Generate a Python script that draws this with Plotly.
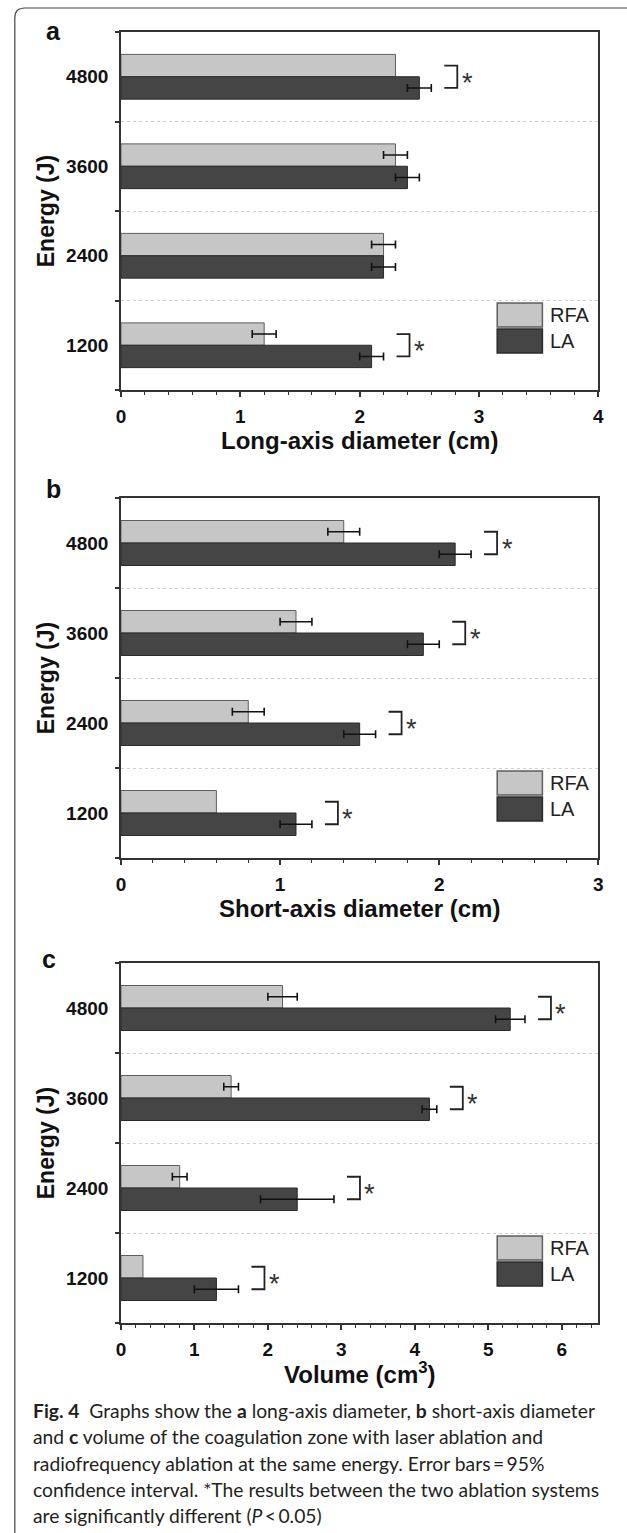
import plotly.graph_objects as go

W, H = 627, 1533

# ---------------- data ----------------
energy_labels = ["1200", "2400", "3600", "4800"]

a_rfa = [1.2, 2.2, 2.3, 2.3]
a_rfa_err = [0.1, 0.1, 0.1, None]
a_la = [2.1, 2.2, 2.4, 2.5]
a_la_err = [0.1, 0.1, 0.1, 0.1]
a_sig = [True, False, False, True]

b_rfa = [0.6, 0.8, 1.1, 1.4]
b_rfa_err = [None, 0.1, 0.1, 0.1]
b_la = [1.1, 1.5, 1.9, 2.1]
b_la_err = [0.1, 0.1, 0.1, 0.1]
b_sig = [True, True, True, True]

c_rfa = [0.3, 0.8, 1.5, 2.2]
c_rfa_err = [None, 0.1, 0.1, 0.2]
c_la = [1.3, 2.4, 4.2, 5.3]
c_la_err = [0.3, 0.5, 0.1, 0.2]
c_sig = [True, True, True, True]

panel_letters = ["a", "b", "c"]
x_titles = ["Long-axis diameter (cm)", "Short-axis diameter (cm)", "Volume (cm<sup>3</sup>)"]
x_ranges = [[0, 4], [0, 3], [0, 6.5]]
series_names = ["RFA", "LA"]

caption_lines = [
    "<b>Fig. 4</b>  Graphs show the <b>a</b> long-axis diameter, <b>b</b> short-axis diameter",
    "and <b>c</b> volume of the coagulation zone with laser ablation and",
    "radiofrequency ablation at the same energy. Error bars\u2009=\u200995%",
    "confidence interval. *The results between the two ablation systems",
    "are significantly different (<i>P</i>\u2009<\u20090.05)",
]

# ---------------- styling ----------------
RFA_FILL, RFA_LINE = "#c6c6c6", "#5e5e5e"
LA_FILL, LA_LINE = "#454545", "#2a2a2a"
AX = "#333333"
BOLD = dict(family="Liberation Sans, Arial, sans-serif", color="#111111", weight="bold")

panel_tops = [32, 498, 963]
panel_bottoms = [390, 858, 1323]
X_LEFT, X_RIGHT = 118, 604


def pxx(p):
    return p / W


def pxy(p):
    return 1 - p / H


panels = [
    (a_rfa, a_rfa_err, a_la, a_la_err, a_sig),
    (b_rfa, b_rfa_err, b_la, b_la_err, b_sig),
    (c_rfa, c_rfa_err, c_la, c_la_err, c_sig),
]

fig = go.Figure()
shapes = []
annotations = []
idx = list(range(len(energy_labels)))

for k, (rfa, rfa_err, la, la_err, sig) in enumerate(panels):
    n = k + 1
    xa = "x" if n == 1 else f"x{n}"
    ya = "y" if n == 1 else f"y{n}"
    top, bot = panel_tops[k], panel_bottoms[k]

    fig.add_trace(go.Bar(orientation="h", x=rfa, y=idx, width=0.25, offset=0,
                         marker=dict(color=RFA_FILL, line=dict(color=RFA_LINE, width=1)),
                         xaxis=xa, yaxis=ya, showlegend=False, name=series_names[0]))
    fig.add_trace(go.Bar(orientation="h", x=la, y=idx, width=0.25, offset=-0.25,
                         marker=dict(color=LA_FILL, line=dict(color=LA_LINE, width=1)),
                         xaxis=xa, yaxis=ya, showlegend=False, name=series_names[1]))

    # error bars (only where an error value exists)
    for vals, errs, dy in ((rfa, rfa_err, 0.125), (la, la_err, -0.125)):
        ex = [v for v, e in zip(vals, errs) if e is not None]
        ey = [i + dy for i, e in zip(idx, errs) if e is not None]
        ee = [e for e in errs if e is not None]
        fig.add_trace(go.Scatter(x=ex, y=ey, mode="markers",
                                 marker=dict(size=1, opacity=0),
                                 error_x=dict(type="data", array=ee, symmetric=True,
                                              color="#111111", thickness=1.6, width=4),
                                 xaxis=xa, yaxis=ya, showlegend=False, hoverinfo="skip"))

    # significance brackets
    gap, bw = 13, 13
    for i in idx:
        if not sig[i]:
            continue
        anchor = max(rfa[i] + (rfa_err[i] or 0), la[i] + (la_err[i] or 0))
        shapes.append(dict(type="path", xref=xa, yref=ya, xsizemode="pixel", xanchor=anchor,
                           path=f"M{gap},{i + 0.125} L{gap + bw},{i + 0.125} "
                                f"L{gap + bw},{i - 0.125} L{gap},{i - 0.125}",
                           line=dict(color="#222222", width=1.8)))
        annotations.append(dict(x=anchor, y=i, xref=xa, yref=ya, text="*", showarrow=False,
                                xshift=gap + bw + 10, yshift=-6, xanchor="center", yanchor="middle",
                                font=dict(family="Liberation Sans, Arial", size=27, color="#333333")))

    fig.layout[f"xaxis{'' if n == 1 else n}"] = dict(
        domain=[pxx(X_LEFT), pxx(X_RIGHT)], anchor=ya, range=x_ranges[k],
        tickmode="linear", tick0=0, dtick=1, ticks="outside", ticklen=5, tickwidth=1.5,
        tickcolor=AX, showline=True, linecolor=AX, linewidth=1.5, mirror=True,
        showgrid=False, zeroline=False, tickfont=dict(size=19, **BOLD), ticklabelstandoff=3,
        minor=dict(dtick=0.2, tick0=0, ticks="outside", ticklen=3, tickwidth=1.2,
                   tickcolor=AX, showgrid=False),
    )
    fig.layout[f"yaxis{'' if n == 1 else n}"] = dict(
        domain=[pxy(bot), pxy(top)], anchor=xa, range=[-0.5, 3.5],
        tickmode="array", tickvals=idx, ticktext=energy_labels, ticks="",
        showline=True, linecolor=AX, linewidth=1.5, mirror=True,
        showgrid=False, zeroline=False, tickfont=dict(size=19, **BOLD), ticklabelstandoff=7,
        minor=dict(tickmode="array", tickvals=[-0.5, 0.5, 1.5, 2.5, 3.5], ticks="outside",
                   ticklen=4, tickwidth=1.5, tickcolor=AX, showgrid=True,
                   gridcolor="#d0d0d0", griddash="dot", gridwidth=1),
    )

    # x-axis title
    annotations.append(dict(x=pxx((X_LEFT + X_RIGHT) / 2), y=pxy(bot + 50), xref="paper", yref="paper",
                            text=x_titles[k], showarrow=False, xanchor="center", yanchor="middle",
                            font=dict(size=24, **BOLD)))
    # y-axis title
    annotations.append(dict(x=pxx(42), y=pxy((top + bot) / 2), xref="paper", yref="paper",
                            text="Energy (J)", showarrow=False, textangle=-90,
                            xanchor="center", yanchor="middle", font=dict(size=23, **BOLD)))
    # panel letter
    letter_y = [31, 489, 959][k]
    letter_x = [49, 49, 45][k]
    annotations.append(dict(x=pxx(letter_x), y=pxy(letter_y), xref="paper", yref="paper",
                            text=panel_letters[k], showarrow=False, xanchor="center", yanchor="middle",
                            font=dict(size=25, **BOLD)))

    # legend (drawn)
    for j, (fill, lc) in enumerate(((RFA_FILL, RFA_LINE), (LA_FILL, LA_LINE))):
        y0 = bot - 87 + j * 26
        y1 = y0 + 24
        shapes.append(dict(type="rect", xref="paper", yref="paper",
                           x0=pxx(501), x1=pxx(547), y0=pxy(y1), y1=pxy(y0),
                           fillcolor=fill, line=dict(color=lc, width=1.5)))
        annotations.append(dict(x=pxx(553), y=pxy((y0 + y1) / 2), xref="paper", yref="paper",
                                text=series_names[j], showarrow=False, xanchor="left", yanchor="middle",
                                font=dict(family="Liberation Sans, Arial", size=20, color="#222222")))

# caption
cap_y = [1410, 1436, 1463, 1489, 1515]
for line, yy in zip(caption_lines, cap_y):
    annotations.append(dict(x=pxx(26), y=pxy(yy), xref="paper", yref="paper", text=line,
                            showarrow=False, xanchor="left", yanchor="middle",
                            font=dict(family="Lato, Open Sans, sans-serif", size=19.3, color="#231f20")))

# figure border (left & top, rounded corner)
r = 10
shapes.append(dict(type="path", xref="paper", yref="paper",
                   path=f"M{pxx(10)},{pxy(1540)} L{pxx(10)},{pxy(8 + r)} "
                        f"Q{pxx(10)},{pxy(8)} {pxx(10 + r)},{pxy(8)} L{pxx(640)},{pxy(8)}",
                   line=dict(color="#444444", width=1.2)))

fig.update_layout(width=W, height=H, autosize=False, margin=dict(l=0, r=0, t=0, b=0),
                  paper_bgcolor="white", plot_bgcolor="white", barmode="overlay",
                  shapes=shapes, annotations=annotations, showlegend=False)

fig.write_html("out.html", config={"displayModeBar": False},
               post_script="document.body.style.margin='0';document.body.style.padding='0';")
